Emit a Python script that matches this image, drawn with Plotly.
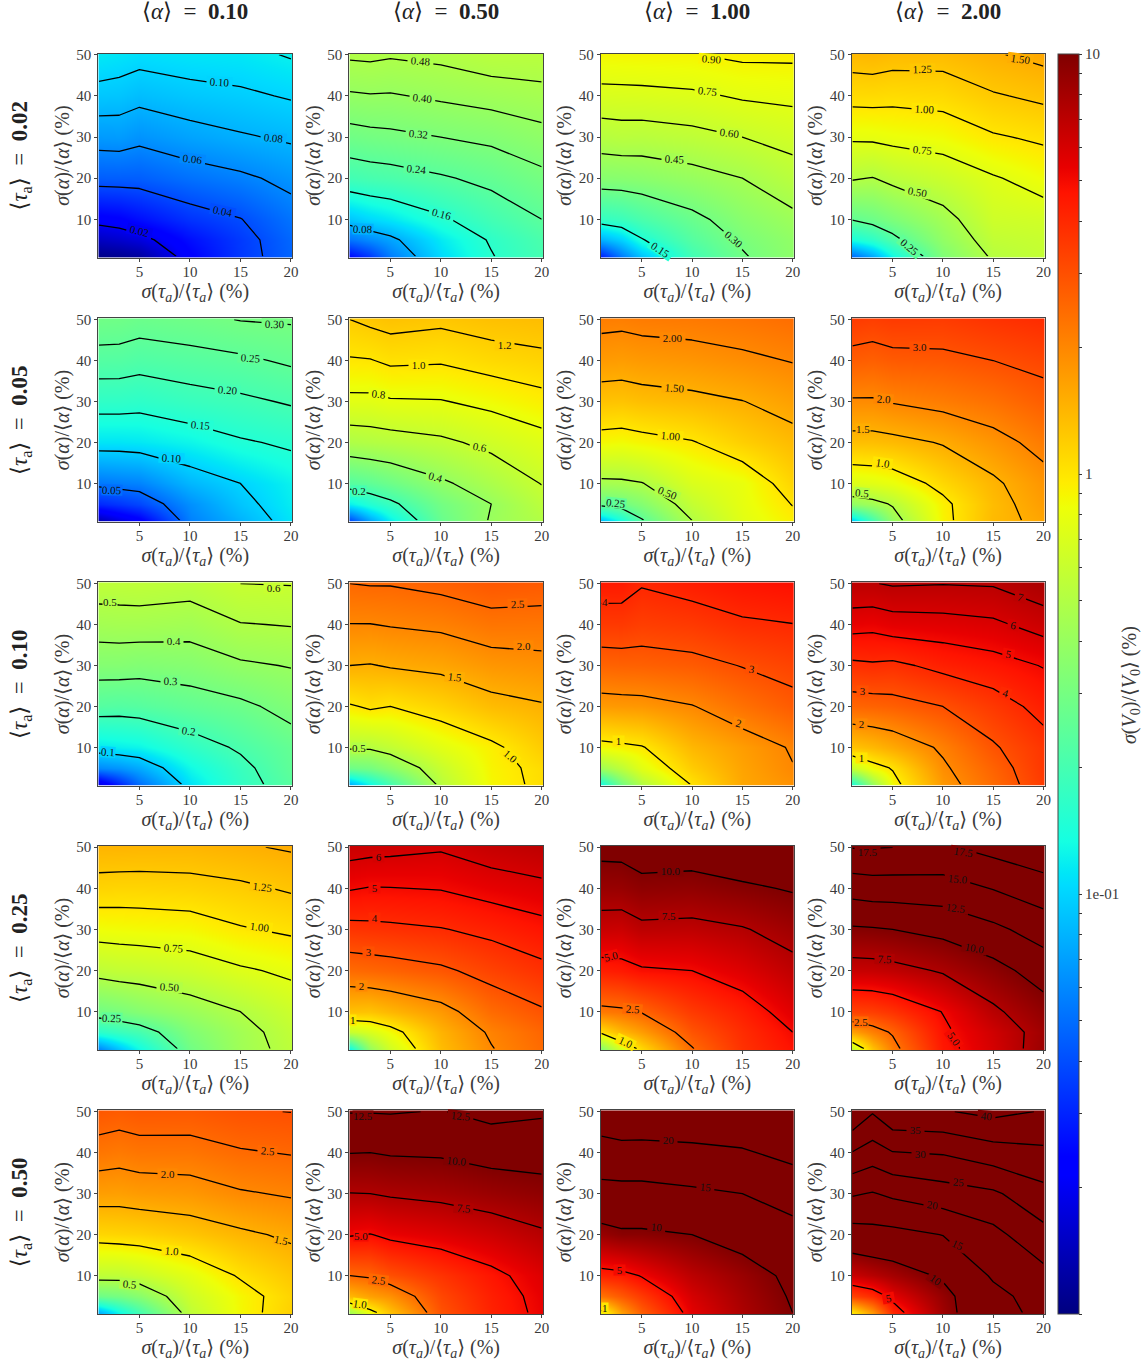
import numpy as np
import plotly.graph_objects as go

tau_labels = ["0.02", "0.05", "0.10", "0.25", "0.50"]
alpha_labels = ["0.10", "0.50", "1.00", "2.00"]
sigma_tau = [1, 3, 5, 10, 15, 20]
sigma_alpha = [1, 5, 10, 20, 30, 40, 50]

# each row: one sigma_alpha value, columns: sigma_tau values
V_t002_a010 = [[.0105,.011,.012,.023,.0345,.047],[.015,.016,.0175,.026,.035,.048],[.022,.023,.0257,.0334,.0395,.052],[.0445,.0447,.0448,.051,.0565,.065],[.0675,.0682,.0643,.0718,.0778,.083],[.0918,.0905,.086,.092,.096,.102],[.115,.1116,.108,.112,.1136,.122]]
V_t002_a050 = [[.025,.035,.055,.105,.157,.2],[.053,.062,.072,.116,.165,.21],[.091,.103,.113,.151,.195,.24],[.194,.203,.209,.232,.259,.30],[.287,.296,.302,.32,.338,.372],[.389,.395,.393,.413,.432,.452],[.494,.498,.489,.502,.533,.534]]
V_t002_a100 = [[.03,.055,.09,.192,.29,.37],[.08,.10,.145,.229,.315,.38],[.171,.182,.207,.271,.354,.42],[.347,.35,.359,.397,.45,.533],[.519,.532,.528,.554,.60,.651],[.696,.699,.703,.723,.767,.785],[.88,.886,.889,.895,.93,.93]]
V_t002_a200 = [[.05,.075,.13,.327,.52,.58],[.14,.165,.22,.383,.57,.60],[.255,.28,.32,.44,.63,.65],[.513,.495,.54,.616,.73,.837],[.78,.785,.81,.848,.975,1.04],[1.08,1.085,1.07,1.095,1.225,1.304],[1.38,1.40,1.36,1.355,1.475,1.576]]
V_t005_a010 = [[.014,.018,.022,.057,.08,.112],[.031,.034,.038,.063,.09,.118],[.0537,.056,.058,.082,.10,.122],[.112,.112,.114,.1255,.145,.157],[.167,.167,.164,.179,.19,.205],[.227,.226,.219,.229,.24,.258],[.288,.286,.276,.286,.302,.306]]
V_t005_a050 = [[.04,.075,.12,.27,.41,.5],[.12,.15,.18,.295,.40,.54],[.23,.25,.28,.375,.475,.605],[.49,.505,.52,.565,.645,.73],[.75,.75,.78,.79,.85,.93],[.98,.99,1.035,1.02,1.09,1.14],[1.2,1.25,1.29,1.25,1.31,1.34]]
V_t005_a100 = [[.09,.14,.24,.5,.75,.93],[.27,.29,.34,.58,.78,1.01],[.45,.46,.49,.70,.8,1.13],[.87,.85,.89,.98,1.175,1.36],[1.29,1.28,1.33,1.39,1.49,1.66],[1.73,1.70,1.74,1.8,1.9,2.02],[2.14,2.12,2.17,2.2,2.28,2.4]]
V_t005_a200 = [[.1,.2,.4,.9,1.37,1.6],[.38,.43,.52,.92,1.35,1.7],[.72,.75,.8,1.1,1.42,1.8],[1.33,1.33,1.37,1.53,1.8,2.18],[1.93,1.93,2.03,2.16,2.35,2.7],[2.72,2.66,2.77,2.82,3.0,3.22],[3.5,3.4,3.5,3.47,3.7,3.9]]
V_t010_a010 = [[.018,.03,.05,.11,.17,.235],[.06,.065,.075,.128,.18,.25],[.115,.12,.125,.165,.21,.26],[.228,.225,.23,.255,.28,.33],[.34,.34,.333,.345,.385,.405],[.445,.45,.45,.44,.495,.505],[.555,.555,.56,.545,.6,.605]]
V_t010_a050 = [[.08,.13,.2,.53,.88,1.06],[.28,.3,.36,.6,.9,1.07],[.52,.52,.57,.75,.93,1.2],[.97,1.04,1.0,1.14,1.35,1.46],[1.5,1.48,1.53,1.6,1.78,1.85],[1.99,1.99,2.03,2.1,2.28,2.27],[2.5,2.53,2.53,2.65,2.83,2.77]]
V_t010_a100 = [[.14,.3,.5,1.02,1.58,1.85],[.43,.55,.75,1.2,1.62,1.98],[.86,.91,.97,1.4,1.7,2.05],[1.72,1.75,1.77,1.97,2.35,2.75],[2.58,2.62,2.64,2.75,3.03,3.28],[3.52,3.53,3.4,3.53,3.85,3.98],[4.45,4.43,4.07,4.35,4.65,4.8]]
V_t010_a200 = [[.15,.4,.85,1.75,2.45,3.5],[.6,.85,1.03,1.9,2.6,3.6],[1.28,1.39,1.55,2.1,2.9,3.65],[2.55,2.6,2.67,3.0,3.55,4.3],[3.8,3.88,3.8,4.25,4.58,5.05],[5.36,5.28,5.5,5.6,5.8,6.4],[6.95,6.95,7.1,7.04,7.1,7.7]]
V_t025_a010 = [[.06,.09,.13,.29,.43,.55],[.16,.18,.2,.33,.44,.57],[.29,.31,.34,.41,.5,.62],[.55,.57,.58,.63,.72,.79],[.84,.85,.86,.88,.98,1.04],[1.14,1.13,1.13,1.15,1.2,1.28],[1.43,1.43,1.42,1.42,1.47,1.53]]
V_t025_a050 = [[.13,.4,.65,1.35,1.97,2.45],[.6,.7,.85,1.45,2.08,2.55],[1.3,1.28,1.4,1.75,2.45,2.9],[2.45,2.52,2.6,2.85,3.3,3.75],[3.7,3.75,3.8,3.95,4.25,4.65],[5.07,4.95,4.97,5.05,5.4,5.7],[6.45,6.35,6.3,6.12,6.6,6.9]]
V_t025_a100 = [[.35,.7,1.1,2.45,3.75,4.7],[1.05,1.4,1.7,2.9,3.9,5.0],[2.2,2.3,2.55,3.5,4.3,5.6],[4.3,4.45,4.8,5.0,5.7,6.85],[6.5,6.4,7.0,6.9,7.35,8.3],[8.65,8.7,9.2,9.03,9.6,10.2],[10.7,10.75,11.4,11.3,12.0,12.8]]
V_t025_a200 = [[.6,1.3,2.15,4.5,6.0,8.5],[1.65,2.1,2.6,4.7,6.2,8.3],[3.3,3.4,3.7,5.05,7.1,9.0],[6.5,6.55,6.8,7.7,9.15,11.1],[9.7,9.8,10.0,10.7,11.95,13.6],[13.5,13.8,13.8,13.9,15.1,16.4],[17.6,17.6,17.5,17.2,18.3,19.3]]
V_t050_a010 = [[.08,.13,.2,.56,.87,1.17],[.28,.3,.35,.63,.88,1.14],[.56,.56,.6,.76,1.03,1.25],[1.11,1.13,1.15,1.26,1.42,1.57],[1.68,1.67,1.72,1.77,1.95,2.05],[2.26,2.2,2.27,2.28,2.45,2.53],[2.82,2.75,2.82,2.8,2.95,3.01]]
V_t050_a050 = [[.45,.85,1.3,2.95,4.2,5.3],[1.4,1.65,1.85,3.2,4.3,5.4],[2.5,2.6,3.0,3.7,4.6,5.7],[5.1,4.95,5.3,5.7,6.3,7.2],[7.45,7.5,7.7,8.0,8.55,9.1],[10.05,10.0,10.2,10.3,10.9,11.0],[12.6,12.6,12.65,12.4,13.2,12.8]]
V_t050_a100 = [[.8,1.7,2.7,5.5,7.7,10.0],[2.3,2.8,3.5,6.0,8.0,10.3],[4.2,4.4,5.1,7.0,8.6,10.7],[8.7,9.4,9.4,10.0,11.3,13.4],[13.4,13.4,13.4,14.2,15.0,16.9],[18.0,18.6,18.6,18.9,19.5,21.3],[23.0,23.3,23.1,23.5,24.0,24.8]]
V_t050_a200 = [[1.0,1.8,4.0,8.3,14.3,15.5],[3.3,3.9,5.5,8.8,13.8,16.8],[6.5,7.2,8.0,10.5,15.5,18.5],[12.9,13.4,13.6,15.1,18.6,23.5],[20.5,19.7,20.9,22.8,24.2,28.5],[29.8,27.7,29.8,30.4,32.8,34.0],[39.5,35.4,39.2,39.6,41.3,39.7]]

levels_t002 = [[.02,.04,.06,.08,.10,.12],[.08,.16,.24,.32,.40,.48],[.15,.30,.45,.60,.75,.90],[.25,.50,.75,1.00,1.25,1.50]]
levels_t005 = [[.05,.10,.15,.20,.25,.30],[.2,.4,.6,.8,1.0,1.2],[.25,.50,1.00,1.50,2.00],[.5,1.0,1.5,2.0,3.0]]
levels_t010 = [[.1,.2,.3,.4,.5,.6],[.5,1.0,1.5,2.0,2.5],[1,2,3,4],[1,2,3,4,5,6,7]]
levels_t025 = [[.25,.50,.75,1.00,1.25,1.50],[1,2,3,4,5,6],[1.0,2.5,5.0,7.5,10.0],[1.0,2.5,5.0,7.5,10.0,12.5,15.0,17.5]]
levels_t050 = [[.5,1.0,1.5,2.0,2.5,3.0],[1.0,2.5,5.0,7.5,10.0,12.5],[1,5,10,15,20],[5,10,15,20,25,30,35,40]]

panels = [[V_t002_a010,V_t002_a050,V_t002_a100,V_t002_a200],
          [V_t005_a010,V_t005_a050,V_t005_a100,V_t005_a200],
          [V_t010_a010,V_t010_a050,V_t010_a100,V_t010_a200],
          [V_t025_a010,V_t025_a050,V_t025_a100,V_t025_a200],
          [V_t050_a010,V_t050_a050,V_t050_a100,V_t050_a200]]
levels = [levels_t002, levels_t005, levels_t010, levels_t025, levels_t050]

# contour label text with where it sits on its panel and its slant
label_spots = {
 (0,0): [("0.02",5,7.2,14),("0.04",13.2,11.9,12),("0.06",10.3,24.6,7),("0.08",18.3,29.7,6),("0.10",12.9,43.3,3)],
 (0,1): [("0.08",2.3,7.7,2),("0.16",10.1,11.2,15),("0.24",7.6,22.3,6),("0.32",7.8,30.8,5),("0.40",8.2,39.6,6),("0.48",8,48.4,4)],
 (0,2): [("0.15",6.9,2.6,33),("0.30",14.1,5.1,40),("0.45",8.3,24.6,3),("0.60",13.7,31.1,7),("0.75",11.5,41.1,6),("0.90",11.9,48.9,4)],
 (0,3): [("0.25",6.7,3.3,40),("0.50",7.5,16.6,10),("0.75",8,26.9,5),("1.00",8.2,36.7,3),("1.25",8,46.5,-1),("1.50",17.7,48.9,8)],
 (1,0): [("0.05",2.3,8.5,2),("0.10",8.2,16.1,3),("0.15",11,24.3,5),("0.20",13.7,32.8,5),("0.25",16,40.6,4),("0.30",18.4,48.8,1)],
 (1,1): [("0.2",1.9,8.1,0),("0.4",9.5,11.7,15),("0.6",13.8,18.9,10),("0.8",3.8,31.9,6),("1.0",7.8,39,0),("1.2",16.3,43.8,0)],
 (1,2): [("0.25",2.4,5.2,6),("0.50",7.6,7.7,22),("1.00",7.9,21.6,5),("1.50",8.3,33.4,4),("2.00",8.1,45.6,0)],
 (1,3): [("0.5",2,7.6,5),("1.0",4,14.9,8),("1.5",2.1,23.4,0),("2.0",4.1,30.5,5),("3.0",7.7,43.2,0)],
 (2,0): [("0.1",1.9,8.9,3),("0.2",9.9,14,8),("0.3",8.1,26.2,2),("0.4",8.4,36,0),("0.5",2.1,45.4,0),("0.6",18.3,48.9,0)],
 (2,1): [("0.5",1.9,9.9,0),("1.0",16.9,8,40),("1.5",11.4,27.1,6),("2.0",18.2,34.7,0),("2.5",17.6,44.9,-2)],
 (2,2): [("1",2.7,11.5,0),("2",14.6,15.9,15),("3",15.9,29.1,10),("4",1.4,45.6,0)],
 (2,3): [("1",1.9,7.4,0),("2",1.9,15.7,0),("3",2,23.7,0),("4",16.2,23.4,15),("5",16.5,32.9,10),("6",17,40,12),("7",17.7,46.8,15)],
 (3,0): [("0.25",2.3,8.5,2),("0.50",8,15.9,4),("0.75",8.4,25.4,3),("1.00",16.9,30.5,7),("1.25",17.2,40.4,7)],
 (3,1): [("1",1.3,7.9,0),("2",2.1,16.3,0),("3",2.8,24.6,0),("4",3.4,32.8,0),("5",3.4,40.2,0),("6",3.8,47.7,0)],
 (3,2): [("1.0",3.4,2.6,25),("2.5",4.1,10.6,5),("5.0",2,23.6,-15),("7.5",7.7,33.3,0),("10.0",7.9,44.3,0)],
 (3,3): [("2.5",1.9,7.5,0),("5.0",11.1,3.3,55),("7.5",4.2,22.8,3),("10.0",13.1,25.5,10),("12.5",11.3,35.1,7),("15.0",11.5,42.3,5),("17.5",2.5,48.9,0),("17.5",12.1,48.9,8)],
 (4,0): [("0.5",4,8.1,5),("1.0",8.2,16,5),("1.5",19,18.6,12),("2.0",7.8,34.9,0),("2.5",17.7,40.4,5)],
 (4,1): [("1.0",2,3.1,8),("2.5",3.8,8.9,7),("5.0",2.1,19.6,0),("7.5",12.2,26.6,5),("10.0",11.6,38,6),("12.5",2.3,48.9,0),("12.5",12,48.9,5)],
 (4,2): [("1",1.4,2.2,0),("5",2.8,11.4,0),("10",6.5,21.9,5),("15",11.3,31.6,5),("20",7.7,43,0)],
 (4,3): [("5",4.6,4.5,-10),("10",9.3,8.9,35),("15",11.5,17.4,25),("20",9,27.2,8),("25",11.6,32.8,5),("30",7.8,39.7,0),("35",7.3,45.5,0),("40",14.3,48.9,5)],
}

colorbar_values = [.01,.02,.03,.04,.05,.06,.07,.08,.09,.1,.2,.3,.4,.5,.6,.7,.8,.9,1,2,3,4,5,6,7,8,9,10]
colorbar_text = {0.1: "1e-01", 1: "1", 10: "10"}

jet_stops = [0,.11,.125,.34,.35,.375,.64,.65,.66,.89,.91,1]
jet_rgb = [(0,0,128),(0,0,255),(0,0,255),(0,219,255),(0,230,247),(21,255,226),(238,255,8),(247,246,0),(255,236,0),(255,19,0),(232,0,0),(128,0,0)]
jet = [[s, "rgb(%d,%d,%d)" % c] for s, c in zip(jet_stops, jet_rgb)]

def level_colour(value):
    t = min(max((np.log10(value) + 2) / 3, 0), 1)
    rgb = [np.interp(t, jet_stops, [c[i] for c in jet_rgb]) for i in range(3)]
    return "rgb(%d,%d,%d)" % tuple(round(v) for v in rgb)

W, H = 1147, 1362
col_px = [(98.3,292.3),(349.3,543),(600.7,794),(851.7,1044.7)]
row_px = [(53.5,257.7),(318.3,521.7),(582.3,785.7),(846,1050),(1110.3,1314)]
SERIF = "Liberation Serif, DejaVu Serif, serif"
INK = "#3a3a3a"
NB = "\u00a0"

def padded(text, lx):
    half = (len(text) * 2.8 + 4) / 10.1
    return f"{NB}{text}{NB}" if lx - half > 0.95 and lx + half < 20.1 else text

fig = go.Figure()
layout = dict(width=W, height=H, margin=dict(l=0,r=0,t=0,b=0), paper_bgcolor="white", plot_bgcolor="white",
              showlegend=False, font=dict(family=SERIF, color=INK, size=13),
              coloraxis=dict(cmin=-2, cmax=1, colorscale=jet, colorbar=dict(
                  x=1057.5/W, xanchor="left", xpad=0, y=1-54/H, yanchor="top", ypad=0,
                  thickness=20.5, thicknessmode="pixels", len=1260/H, lenmode="fraction",
                  outlinecolor="#444", outlinewidth=1, ticks="outside", ticklen=3, tickcolor="#333",
                  tickmode="array", tickvals=[float(np.log10(v)) for v in colorbar_values],
                  ticktext=[colorbar_text.get(v, "") for v in colorbar_values],
                  tickfont=dict(family=SERIF, size=15, color=INK))))
annotations = []
n = 0
for r in range(5):
    for c in range(4):
        n += 1
        xname = "x" if n == 1 else f"x{n}"
        yname = "y" if n == 1 else f"y{n}"
        z = np.array(panels[r][c], dtype=float)
        fig.add_trace(go.Heatmap(x=sigma_tau, y=sigma_alpha, z=np.log10(z), coloraxis="coloraxis",
                                 zsmooth="best", hoverinfo="skip", xaxis=xname, yaxis=yname))
        for lev in levels[r][c]:
            fig.add_trace(go.Contour(x=sigma_tau, y=sigma_alpha, z=z, autocontour=False, showscale=False,
                                     contours=dict(start=lev, end=lev, size=1, coloring="none", showlabels=False),
                                     line=dict(color="black", width=1.3, smoothing=0), hoverinfo="skip",
                                     xaxis=xname, yaxis=yname))
        for text, lx, ly, angle in label_spots[(r, c)]:
            annotations.append(dict(text=padded(text, lx), x=lx, y=ly, xref=xname, yref=yname, showarrow=False, textangle=angle,
                                    bgcolor=level_colour(float(text)), borderpad=0, height=10,
                                    font=dict(family=SERIF, size=11, color="#111"), xanchor="center", yanchor="middle"))
        x0, x1 = col_px[c]
        y0, y1 = row_px[r]
        axis_common = dict(showgrid=False, zeroline=False, showline=True, mirror=True, linecolor="#444", linewidth=1,
                           ticks="outside", ticklen=3, tickcolor="#444", tickfont=dict(family=SERIF, size=15, color=INK),
                           layer="above traces")
        layout["xaxis" if n == 1 else f"xaxis{n}"] = dict(axis_common, domain=[x0/W, x1/W], range=[0.93, 20.13],
            anchor=yname, tickmode="array", tickvals=[5,10,15,20], automargin=False, ticklabelstandoff=-3,
            title=dict(text="<i>σ</i>(<i>τ</i><sub><i>a</i></sub>)/⟨<i>τ</i><sub><i>a</i></sub>⟩ (%)", font=dict(family=SERIF, size=20, color=INK), standoff=0))
        layout["yaxis" if n == 1 else f"yaxis{n}"] = dict(axis_common, domain=[1-y1/H, 1-y0/H], range=[0.67, 50.3],
            anchor=xname, tickmode="array", tickvals=[10,20,30,40,50], automargin=False,
            title=dict(text="<i>σ</i>(<i>α</i>)/⟨<i>α</i>⟩ (%)", font=dict(family=SERIF, size=20, color=INK), standoff=1))

for c, lab in enumerate(alpha_labels):
    annotations.append(dict(text=f"⟨<i>α</i>⟩{NB}{NB}={NB}{NB}<b>{lab}</b>", x=(sum(col_px[c])/2)/W, y=1-12/H, xref="paper", yref="paper",
                            showarrow=False, font=dict(family=SERIF, size=23, color="#222"), xanchor="center", yanchor="middle"))
for r, lab in enumerate(tau_labels):
    annotations.append(dict(text=f"⟨<i>τ</i><sub>a</sub>⟩{NB}{NB}={NB}{NB}<b>{lab}</b>", x=21/W, y=1-(sum(row_px[r])/2)/H, xref="paper", yref="paper",
                            showarrow=False, textangle=-90, font=dict(family=SERIF, size=23, color="#222"), xanchor="center", yanchor="middle"))
annotations.append(dict(text="<i>σ</i>(<i>V</i><sub>0</sub>)/⟨<i>V</i><sub>0</sub>⟩ (%)", x=1130/W, y=1-685/H, xref="paper", yref="paper",
                        showarrow=False, textangle=-90, font=dict(family=SERIF, size=20, color=INK), xanchor="center", yanchor="middle"))
layout["annotations"] = annotations
fig.update_layout(**layout)
fig.write_html("out.html", config={"displayModeBar": False},
               post_script="document.body.style.margin='0';document.body.style.overflow='hidden';")
